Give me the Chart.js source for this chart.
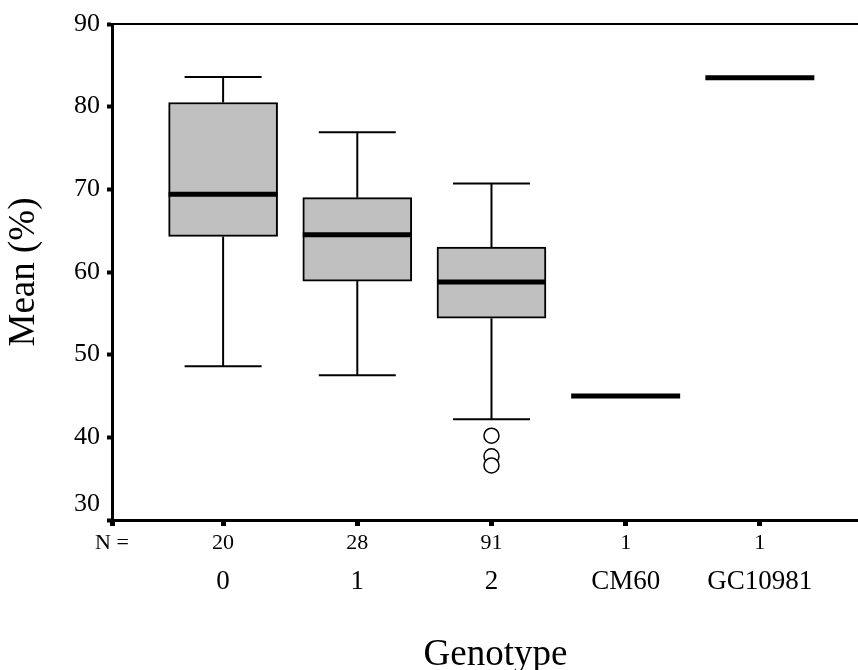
<!DOCTYPE html>
<html>
<head>
<meta charset="utf-8">
<script src="https://cdn.jsdelivr.net/npm/chart.js@4.4.1/dist/chart.umd.min.js"></script>
<style>
  html, body { margin: 0; padding: 0; background: #fff; overflow: hidden; }
  canvas { display: block; }
</style>
</head>
<body>
<canvas id="myChart" width="888" height="670"></canvas>
<script>
// Mean (%) by genotype, SPSS-style box plot
const genotypes = ['0', '1', '2', 'CM60', 'GC10981'];
const nCounts = [20, 28, 91, 1, 1];
const whiskerLow = [48.6, 47.5, 42.2, null, null];
const q1 = [64.3, 58.9, 54.4, null, null];
const medians = [69.4, 64.5, 58.8, 45.0, 83.5];
const q3 = [80.5, 69.0, 63.0, null, null];
const whiskerHigh = [83.6, 76.9, 70.7, null, null];
const outliers = [[], [], [40.2, 37.7, 36.6], [], []];
const yTicks = [30, 40, 50, 60, 70, 80, 90];

const FONT = 'Liberation Serif';
const X_MIN = -0.828;
const X_MAX = 4.888;

// whiskers, caps and median bars on top of the boxes
const boxplotMarks = {
  id: 'boxplotMarks',
  afterDatasetsDraw(chart, args, opts) {
    const { ctx, scales: { x, y } } = chart;
    const line = (x1, y1, x2, y2) => {
      ctx.beginPath();
      ctx.moveTo(x1, y1);
      ctx.lineTo(x2, y2);
      ctx.stroke();
    };
    ctx.save();
    ctx.strokeStyle = '#000';
    genotypes.forEach((g, i) => {
      const cx = x.getPixelForValue(i);
      if (whiskerHigh[i] != null) {
        ctx.lineWidth = opts.whiskerWidth;
        const yHi = y.getPixelForValue(whiskerHigh[i]);
        const yLo = y.getPixelForValue(whiskerLow[i]);
        line(cx, y.getPixelForValue(q3[i]), cx, yHi);
        line(cx, y.getPixelForValue(q1[i]), cx, yLo);
        line(cx - opts.capWidth / 2, yHi, cx + opts.capWidth / 2, yHi);
        line(cx - opts.capWidth / 2, yLo, cx + opts.capWidth / 2, yLo);
      }
      ctx.lineWidth = opts.medianWidth;
      const ym = y.getPixelForValue(medians[i]);
      line(cx - opts.boxWidth / 2, ym, cx + opts.boxWidth / 2, ym);
    });
    ctx.restore();
  }
};

const boxData = genotypes.map((g, i) => ({ x: i, y: q1[i] == null ? null : [q1[i], q3[i]] }));
const outlierData = [];
outliers.forEach((vals, i) => vals.forEach(v => outlierData.push({ x: i, y: v })));

new Chart(document.getElementById('myChart'), {
  type: 'bar',
  data: {
    datasets: [{
      type: 'bar',
      data: boxData,
      backgroundColor: '#c0c0c0',
      borderColor: '#000',
      borderWidth: 2,
      borderSkipped: false,
      barThickness: 109
    }, {
      type: 'scatter',
      data: outlierData,
      pointRadius: 7.5,
      pointBackgroundColor: '#fff',
      pointBorderColor: '#000',
      pointBorderWidth: 1.5
    }]
  },
  plugins: [boxplotMarks],
  options: {
    responsive: false,
    animation: false,
    devicePixelRatio: 1,
    layout: { padding: 0 },
    plugins: {
      legend: { display: false },
      tooltip: { enabled: false },
      boxplotMarks: { boxWidth: 109, capWidth: 77, whiskerWidth: 2, medianWidth: 5 }
    },
    scales: {
      y: {
        type: 'linear',
        min: 30,
        max: 90,
        afterBuildTicks: (scale) => { scale.ticks = yTicks.map(v => ({ value: v })); },
        afterFit: (scale) => { scale.width = 112; },
        ticks: {
          color: '#000',
          font: { family: FONT, size: 26 },
          padding: 7,
          // the lowest label sits just above the x axis
          callback: (v) => v === yTicks[0] ? [String(v), ''] : String(v)
        },
        grid: { drawOnChartArea: false, tickLength: 5, tickWidth: 4, tickColor: '#000' },
        border: { color: '#000', width: 3 },
        title: {
          display: true,
          text: 'Mean (%)',
          color: '#000',
          font: { family: FONT, size: 37 },
          padding: 2
        }
      },
      x: {
        type: 'linear',
        position: 'bottom',
        weight: 0,
        offset: false,
        min: X_MIN,
        max: X_MAX,
        afterBuildTicks: (scale) => {
          scale.ticks = [{ value: X_MIN }].concat(genotypes.map((g, i) => ({ value: i })));
        },
        afterFit: (scale) => { scale.height = 46; },
        ticks: {
          color: '#000',
          font: { family: FONT, size: 22 },
          padding: 4,
          maxRotation: 0,
          callback: (v, idx) => idx === 0 ? 'N =' : String(nCounts[idx - 1])
        },
        grid: { offset: false, drawOnChartArea: false, tickLength: 6, tickWidth: 5, tickColor: '#000' },
        border: { color: '#000', width: 3 }
      },
      xCat: {
        type: 'linear',
        position: 'bottom',
        weight: 1,
        offset: false,
        min: X_MIN,
        max: X_MAX,
        afterBuildTicks: (scale) => { scale.ticks = genotypes.map((g, i) => ({ value: i })); },
        afterFit: (scale) => { scale.height = 104; },
        ticks: {
          color: '#000',
          font: { family: FONT, size: 27 },
          padding: 0,
          maxRotation: 0,
          callback: (v, idx) => genotypes[idx]
        },
        grid: { offset: false, display: false, drawTicks: false },
        border: { display: false },
        title: {
          display: true,
          text: 'Genotype',
          color: '#000',
          font: { family: FONT, size: 37, lineHeight: 0.8 },
          padding: 0
        }
      },
      xTop: {
        type: 'linear',
        position: 'top',
        min: X_MIN,
        max: X_MAX,
        afterFit: (scale) => { scale.height = 24; },
        ticks: { display: false },
        grid: { offset: false, drawOnChartArea: false, drawTicks: false },
        border: { color: '#000', width: 2 }
      }
    }
  }
});
</script>
</body>
</html>
